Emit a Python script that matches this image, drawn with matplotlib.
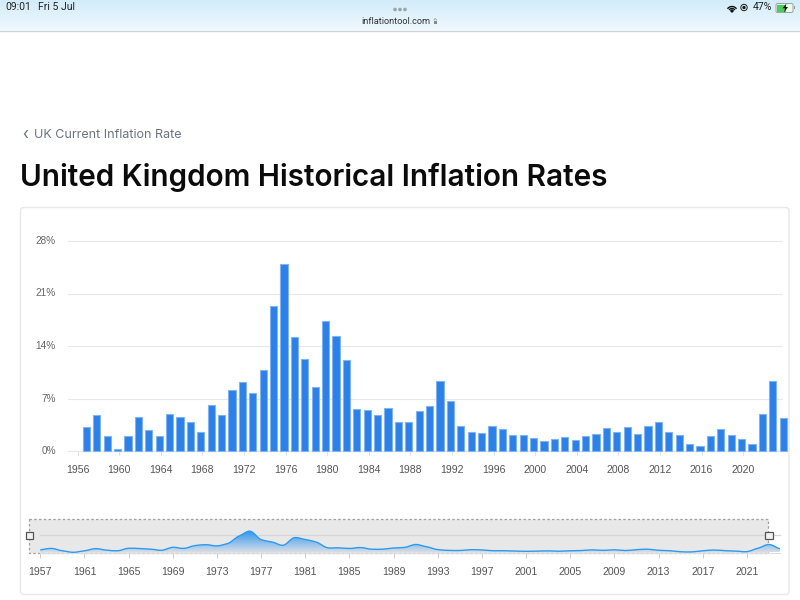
import numpy as np
import matplotlib
matplotlib.use("Agg")
import matplotlib.pyplot as plt
from matplotlib.patches import FancyBboxPatch, Rectangle, Arc, Circle, PathPatch, Polygon
from matplotlib.path import Path
from matplotlib.colors import LinearSegmentedColormap
from matplotlib.transforms import ScaledTranslation

years = list(range(1957, 2025))
rates = [3.2, 4.8, 2.0, 0.25, 2.0, 4.5, 2.8, 2.0, 5.0, 4.6, 3.9, 2.6, 6.1, 4.8, 8.1, 9.2, 7.8, 10.75,
         19.3, 25.0, 15.2, 12.3, 8.5, 17.4, 15.3, 12.2, 5.6, 5.5, 4.75, 5.8, 3.9, 3.9, 5.3, 6.0,
         9.4, 6.7, 3.4, 2.5, 2.35, 3.3, 3.0, 2.1, 2.1, 1.7, 1.4, 1.6, 1.9, 1.5, 2.0, 2.3,
         3.1, 2.5, 3.2, 2.3, 3.3, 3.9, 2.6, 2.1, 0.9, 0.7, 2.0, 2.9, 2.2, 1.6, 1.0, 5.0, 9.4, 4.4]
main_ticks = list(range(1956, 2021, 4))
slider_ticks = list(range(1957, 2022, 4))
y_ticks = [0, 7, 14, 21, 28]

W, H = 800, 600
fig = plt.figure(figsize=(8, 6), dpi=100, facecolor="white")
sans = ["Liberation Sans", "DejaVu Sans"]


def axes_px(x0, y0, x1, y1, **kw):
    return fig.add_axes([x0 / W, 1 - y1 / H, (x1 - x0) / W, (y1 - y0) / H], **kw)


def smooth_path(xs, ys, close_to=None):
    """Bezier path running through every data point."""
    xs, ys = np.asarray(xs, float), np.asarray(ys, float)
    dy = np.gradient(ys, xs)
    verts = [(xs[0], ys[0])]
    codes = [Path.MOVETO]
    for i in range(len(xs) - 1):
        h = (xs[i + 1] - xs[i]) / 3
        verts += [(xs[i] + h, ys[i] + dy[i] * h * 0.7), (xs[i + 1] - h, ys[i + 1] - dy[i + 1] * h * 0.7), (xs[i + 1], ys[i + 1])]
        codes += [Path.CURVE4] * 3
    if close_to is not None:
        verts += [(xs[-1], close_to), (xs[0], close_to), (xs[0], ys[0])]
        codes += [Path.LINETO, Path.LINETO, Path.CLOSEPOLY]
    return Path(verts, codes)


# page layer in pixel coordinates
page = axes_px(0, 0, W, H, zorder=0)
page.axis("off")
cm = LinearSegmentedColormap.from_list("bar", ["#d3ecfa", "#eef8fd"])
page.imshow(np.linspace(0, 1, 30)[:, None], extent=(0, W, 30, 0), cmap=cm, aspect="auto", zorder=0)
page.set_xlim(0, W)
page.set_ylim(H, 0)
page.plot([0, W], [30.5, 30.5], color="#c9d3d8", lw=1)
page.text(5, 7.5, "09:01", fontsize=7.5, family="Roboto", color="#222", va="center")
page.text(38, 7.5, "Fri 5 Jul", fontsize=7.5, family="Roboto", color="#222", va="center")
page.text(395.5, 21, "inflationtool.com", fontsize=6.6, family="Roboto", color="#333", ha="center", va="center")
for dx in (-5, 0, 5):
    page.add_patch(Circle((400 + dx, 9.5), 1.1, color="#9aa3a8"))
page.add_patch(Rectangle((433.5, 20.5), 3.5, 3, facecolor="#888", edgecolor="none"))
page.add_patch(Arc((435.2, 20.5), 2.4, 3.5, theta1=180, theta2=360, color="#888", lw=0.5))
for d in (11, 7, 3):
    page.add_patch(Arc((732, 12), d, d, theta1=215, theta2=325, color="#111", lw=1.0))
page.add_patch(Circle((732, 11), 0.9, color="#111"))
page.add_patch(Circle((744, 7.5), 3.2, fill=False, edgecolor="#222", lw=0.7))
page.add_patch(Circle((744, 7.5), 1.0, color="#222"))
page.text(753, 7.5, "47%", fontsize=7.5, family="Roboto", color="#222", va="center")
page.add_patch(FancyBboxPatch((776, 3.5), 17, 9, boxstyle="round,pad=0,rounding_size=1.5", facecolor="#eef8f0", edgecolor="#8a9a90", lw=0.6))
page.add_patch(Rectangle((777, 4.5), 9, 7, facecolor="#4ccf5a", edgecolor="none"))
page.add_patch(Rectangle((793.5, 6), 1, 3, facecolor="#8a9a90", edgecolor="none"))
page.add_patch(Polygon([(786.5, 3.5), (782.5, 8.3), (785, 8.3), (784, 12.5), (788, 7), (785.6, 7)], facecolor="#111", edgecolor="none"))

page.text(22.5, 134.5, "\u2039", fontsize=11, family="Inter", color="#6b7280", va="center")
page.text(34, 135, "UK Current Inflation Rate", fontsize=9, family="Inter", color="#6b7280", va="center")
page.text(20, 177.5, "United Kingdom Historical Inflation Rates", fontsize=21.4, family="Inter", weight="semibold", color="#0b0b0b", va="center")
page.add_patch(FancyBboxPatch((20.5, 207.5), 768.5, 387, boxstyle="round,pad=0,rounding_size=3", facecolor="white", edgecolor="#e7e8ec", lw=1))

# main bar chart
ax = axes_px(68.3, 220, 783, 451, zorder=2)
ax.patch.set_alpha(0)
ax.bar(years, rates, width=0.68, color="#2d80e8", edgecolor="#7fb3f2", linewidth=0.8, zorder=3, clip_on=False)
ax.set_xlim(1955.26, 2023.98)
ax.set_ylim(0, 30.8)
ax.set_yticks(y_ticks, [f"{v}%" for v in y_ticks])
ax.set_xticks([t + 0.15 for t in main_ticks], [str(t) for t in main_ticks])
ax.grid(axis="y", color="#e8e8e8", lw=0.8, zorder=0)
for s in ("top", "right", "left"):
    ax.spines[s].set_visible(False)
ax.spines["bottom"].set_color("#e6e6e6")
ax.tick_params(axis="x", length=3.2, width=0.7, color="#dddddd", labelsize=7.6, labelcolor="#555555", pad=6.6)
ax.tick_params(axis="y", length=0, labelsize=7.2, labelcolor="#666666", pad=9)
for lab in ax.get_xticklabels():
    lab.set_family(sans)
for lab in ax.get_yticklabels():
    lab.set_family(sans)
    lab.set_transform(lab.get_transform() + ScaledTranslation(0, 1 / 100, fig.dpi_scale_trans))

# slider window, beneath the sparkline
page.add_patch(Rectangle((29.3, 519), 739, 33.5, facecolor="#e8e8e8", edgecolor="#a0a0a0", lw=0.9, ls=(0, (2, 1.8)), zorder=1))
page.plot([40.3, 780], [535.3, 535.3], color="#d6d6d6", lw=0.9, zorder=2)
page.plot([40.3, 780], [519, 519], color="#e2e2e2", lw=0.8, zorder=0.9)

sl = axes_px(40.3, 519, 780, 552.5, zorder=2)
sl.patch.set_alpha(0)
x_arr = np.array(years)
y_arr = np.array(rates)
grad = LinearSegmentedColormap.from_list("g", ["#d5dde6", "#2d93ee"])
im = sl.imshow(np.linspace(1, 0, 100)[:, None], extent=(1957, 2024, 0, 25), cmap=grad, aspect="auto", zorder=2)
im.set_clip_path(smooth_path(x_arr, y_arr, close_to=0), transform=sl.transData)
sl.add_patch(PathPatch(smooth_path(x_arr, y_arr), facecolor="none", edgecolor="#2a9bf0", lw=1, zorder=3))
sl.set_xlim(1957, 2024)
sl.set_ylim(0, 39.4)
sl.set_yticks([])
sl.set_xticks(slider_ticks, [str(t) for t in slider_ticks])
for s in ("top", "right", "left"):
    sl.spines[s].set_visible(False)
sl.spines["bottom"].set_color("#dddddd")
sl.tick_params(axis="x", length=3.5, width=0.7, color="#cccccc", labelsize=7.6, labelcolor="#555555", pad=6.8)
for lab in sl.get_xticklabels():
    lab.set_family(sans)

top = axes_px(0, 0, W, H, zorder=3)
top.set_xlim(0, W)
top.set_ylim(H, 0)
top.axis("off")
for cx in (29.3, 769):
    top.add_patch(Rectangle((cx - 3.6, 532), 7.2, 7.2, facecolor="#f2f2f2", edgecolor="#555555", lw=0.9))

fig.savefig("out.png", dpi=100)
